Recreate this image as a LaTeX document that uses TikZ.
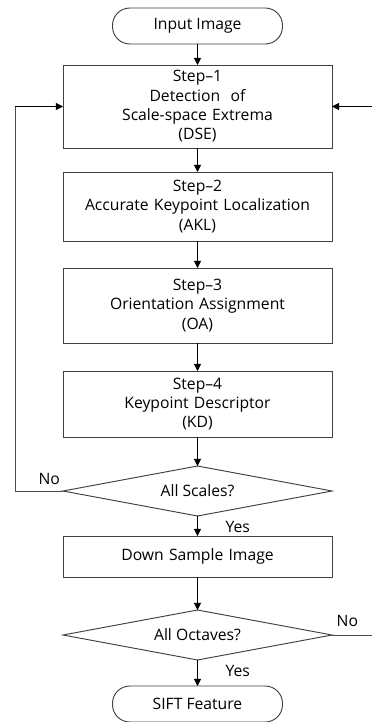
\documentclass[tikz,border=0pt]{standalone}
\usepackage{fontspec}
\setmainfont{Open Sans}
\usetikzlibrary{positioning,shapes.geometric,arrows.meta,backgrounds}

\begin{document}
\begin{tikzpicture}[font=\fontsize{13.4}{16.5}\selectfont, background rectangle/.style={fill=white}, show background rectangle]
    \tikzset{
        term/.style = {rectangle, rounded corners=0.52cm, draw=black!75, line width=0.8pt, outer sep=0pt, minimum width=5.1cm, minimum height=1.08cm, text centered},
        stepbox/.style = {rectangle, draw=black!75, line width=0.8pt, outer sep=0pt, minimum width=8.07cm, text width=7.8cm, inner ysep=1pt, align=center},
        decide/.style = {diamond, aspect=5.4, draw=black!75, line width=0.8pt, outer sep=0pt, minimum width=8.07cm, minimum height=1.5cm, inner sep=0pt},
        arrow/.style = {line width=0.7pt, ->, >={Triangle[length=6pt,width=6pt]}},
        wire/.style = {draw=black!70, line width=0.8pt},
        lbl/.style = {inner sep=1pt}
    }
    \useasboundingbox (0,0) rectangle (11.16,-21.66);

    \node (input) [term] at (5.925,-0.78) {Input Image};
    \node (dse) [stepbox, minimum height=2.49cm, below=0.63cm of input] {Step--1\\Detection\ \ of\\Scale-space Extrema\\(DSE)};
    \node (akl) [stepbox, minimum height=2.07cm, below=0.72cm of dse] {Step--2\\Accurate Keypoint Localization\\(AKL)};
    \node (oa) [stepbox, minimum height=2.25cm, below=0.81cm of akl] {Step--3\\Orientation Assignment\\(OA)};
    \node (kd) [stepbox, minimum height=1.98cm, below=0.84cm of oa] {Step--4\\Keypoint Descriptor\\(KD)};
    \node (scales) [decide, below=0.87cm of kd] {All Scales?};
    \node (down) [stepbox, minimum height=1.23cm, below=0.6cm of scales] {Down Sample Image};
    \node (octaves) [decide, below=0.99cm of down] {All Octaves?};
    \node (sift) [term, below=0.78cm of octaves] {SIFT Feature};

    \draw [arrow] (input) -- (dse);
    \draw [arrow] (dse) -- (akl);
    \draw [arrow] (akl) -- (oa);
    \draw [arrow] (oa) -- (kd);
    \draw [arrow] (kd) -- (scales);
    \draw [arrow] (scales) -- (down);
    \draw [arrow] (down) -- (octaves);
    \draw [arrow] (octaves) -- (sift);

    % loop back over the scales
    \coordinate (scalesL) at (0.45,0 |- scales.west);
    \coordinate (dseL) at (0.45,0 |- dse.west);
    \draw [wire] (scales.west) -- (scalesL) -- (dseL);
    \draw [arrow] (dseL) -- (dse.west);
    \node [lbl, above left=0.15cm and 0.05cm of scales.west] {No};

    % loop back over the octaves
    \coordinate (octR) at (11.16,0 |- octaves.east);
    \coordinate (dseR) at (11.16,0 |- dse.east);
    \draw [wire] (octaves.east) -- (octR);
    \draw [arrow] (dseR) -- (dse.east);
    \node [lbl, above right=0.2cm and 0.1cm of octaves.east] {No};

    \node [lbl, below right=0.12cm and 0.8cm of scales.south] {Yes};
    \node [lbl, below right=0.12cm and 0.8cm of octaves.south] {Yes};
\end{tikzpicture}
\end{document}
